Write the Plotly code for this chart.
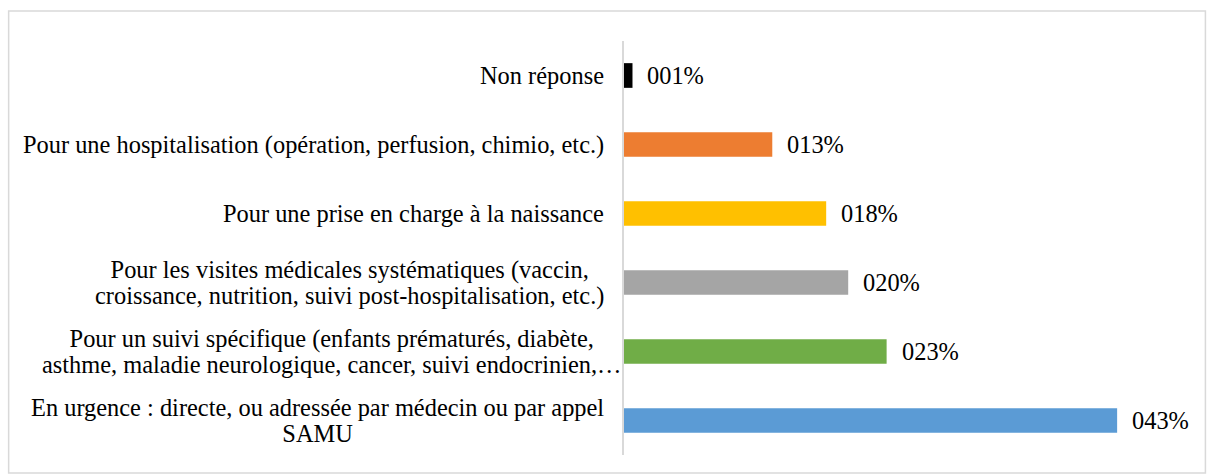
import plotly.graph_objects as go

# ---- data ----
categories = [
    "En urgence : directe, ou adressée par médecin ou par appel<br>SAMU",
    "Pour un suivi spécifique (enfants prématurés, diabète,<br>asthme, maladie neurologique, cancer, suivi endocrinien,…",
    "Pour les visites médicales systématiques (vaccin,<br>croissance, nutrition, suivi post-hospitalisation, etc.)",
    "Pour une prise en charge à la naissance",
    "Pour une hospitalisation (opération, perfusion, chimio, etc.)",
    "Non réponse",
]
values = [43.0, 22.9, 19.55, 17.63, 12.93, 0.74]  # percent
labels = [f"{round(v):03d}%" for v in values]
colors = ["#5B9BD5", "#70AD47", "#A5A5A5", "#FFC000", "#ED7D31", "#000000"]

# ---- layout geometry (pixels) ----
W, H = 1208, 475
PL, PR = 623.5, 1163.5
PT, PB = 41, 455
XMAX = 47

FONT = "Liberation Serif"
FS = 24.4        # rendered glyph size
FS_BASE = 20     # controls line spacing (1.3 * 20 = 26 px)

fig = go.Figure()
fig.add_trace(go.Bar(
    y=categories, x=values, orientation="h",
    marker=dict(color=colors, line=dict(width=0)),
    hoverinfo="x+y",
    width=0.358,
))

def big(s):
    return "<br>".join(f'<span style="font-size:{FS}px">{part}</span>' for part in s.split("<br>"))

ann = []
for c, v, t in zip(categories, values, labels):
    ann.append(dict(x=v, y=c, xref="x", yref="y", text=t, showarrow=False,
                    xanchor="left", yanchor="middle", xshift=13,
                    font=dict(family=FONT, size=FS, color="#000000")))
    shift = -1 if "endocrinien" in c else -18
    ann.append(dict(x=0, y=c, xref="paper", yref="y", text=big(c), showarrow=False,
                    xanchor="right", yanchor="middle", align="center", xshift=shift,
                    font=dict(family=FONT, size=FS_BASE, color="#000000")))

def px2x(X):
    return (X - PL) / (PR - PL)

def py2y(Y):
    return (PB - Y) / (PB - PT)

fig.update_layout(
    width=W, height=H,
    margin=dict(l=PL, r=W - PR, t=PT, b=H - PB, pad=0),
    paper_bgcolor="white", plot_bgcolor="white",
    showlegend=False,
    bargap=0.642,
    xaxis=dict(range=[0, XMAX], visible=False, showgrid=False, zeroline=False, fixedrange=True),
    yaxis=dict(showticklabels=False, ticks="", showgrid=False, zeroline=False,
               showline=True, linecolor="#d9d9d9", linewidth=2, fixedrange=True),
    annotations=ann,
    shapes=[dict(type="rect", xref="paper", yref="paper",
                 x0=px2x(7), x1=px2x(1206), y0=py2y(473), y1=py2y(11),
                 line=dict(color="#d9d9d9", width=1.5), fillcolor="rgba(0,0,0,0)",
                 layer="below")],
)

fig.write_html("out.html",
               config={"displayModeBar": False},
               post_script="document.body.style.margin='0';document.body.style.overflow='hidden';")
